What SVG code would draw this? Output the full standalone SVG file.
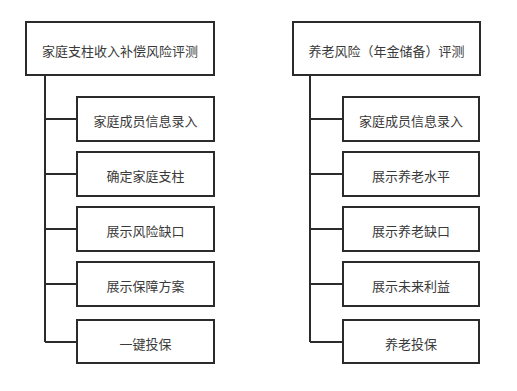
<svg xmlns="http://www.w3.org/2000/svg" width="517" height="391" viewBox="0 0 517 391">
<style>
.b{fill:#fff;stroke:#2b2b2b;stroke-width:2}
.t{font-family:"Noto Sans CJK SC","Noto Sans",sans-serif;font-size:13px;fill:#3a3a3a;text-anchor:middle;dominant-baseline:central}
.c{fill:none;stroke:#2b2b2b;stroke-width:2}
</style>
<rect width="517" height="391" fill="#fff"/>
<g id="connectors">
<path class="c" d="M45 75V342M45 119H77M45 174H77M45 229H77M45 284H77M45 342H77"/>
<path class="c" d="M310 75V342M310 119H343M310 174H343M310 229H343M310 284H343M310 342H343"/>
</g>
<g id="L0"><rect class="b" x="26" y="22" width="188" height="53"/><text class="t" x="120" y="50">家庭支柱收入补偿风险评测</text></g>
<g id="L1"><rect class="b" x="77" y="97" width="137" height="44"/><text class="t" x="145.5" y="120">家庭成员信息录入</text></g>
<g id="L2"><rect class="b" x="77" y="152" width="137" height="44"/><text class="t" x="145.5" y="175">确定家庭支柱</text></g>
<g id="L3"><rect class="b" x="77" y="207" width="137" height="44"/><text class="t" x="145.5" y="230">展示风险缺口</text></g>
<g id="L4"><rect class="b" x="77" y="262" width="137" height="44"/><text class="t" x="145.5" y="285">展示保障方案</text></g>
<g id="L5"><rect class="b" x="77" y="320" width="137" height="43"/><text class="t" x="145.5" y="343">一键投保</text></g>
<g id="R0"><rect class="b" x="293" y="22" width="187" height="53"/><text class="t" x="386.5" y="50">养老风险（年金储备）评测</text></g>
<g id="R1"><rect class="b" x="343" y="97" width="136" height="44"/><text class="t" x="411" y="120">家庭成员信息录入</text></g>
<g id="R2"><rect class="b" x="343" y="152" width="136" height="44"/><text class="t" x="411" y="175">展示养老水平</text></g>
<g id="R3"><rect class="b" x="343" y="207" width="136" height="44"/><text class="t" x="411" y="230">展示养老缺口</text></g>
<g id="R4"><rect class="b" x="343" y="262" width="136" height="44"/><text class="t" x="411" y="285">展示未来利益</text></g>
<g id="R5"><rect class="b" x="343" y="320" width="136" height="43"/><text class="t" x="411" y="343">养老投保</text></g>
</svg>
